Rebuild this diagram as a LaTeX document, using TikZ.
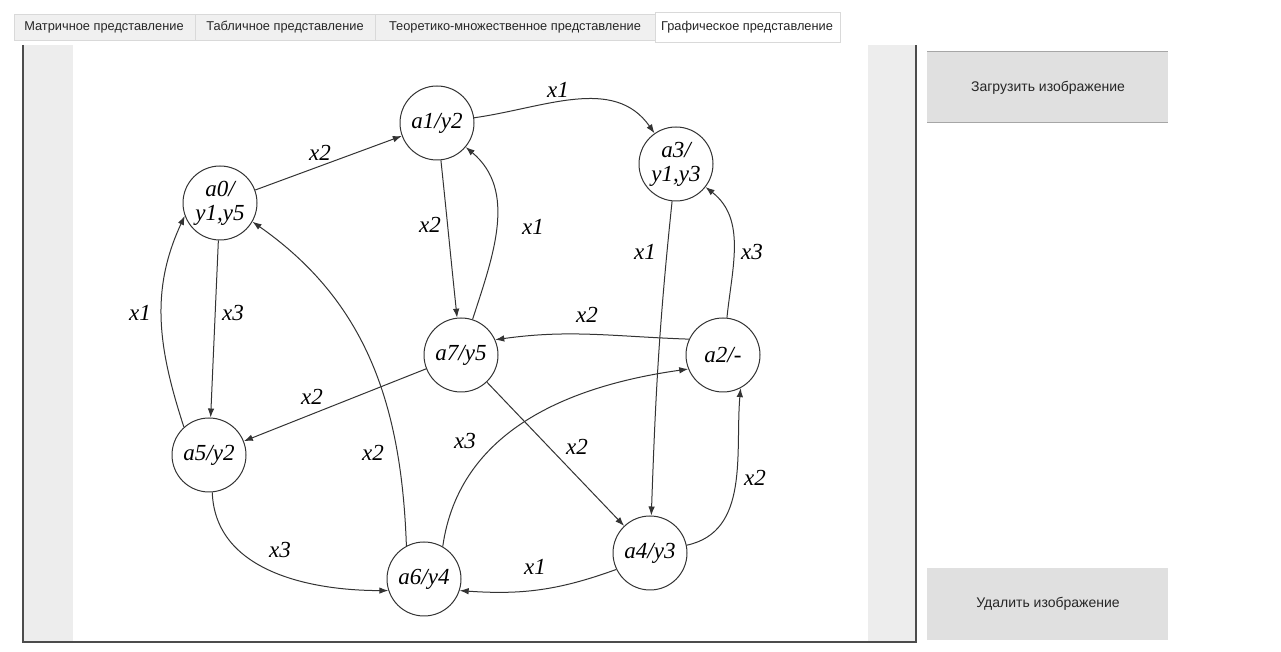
\documentclass[tikz,border=0pt]{standalone}
\usepackage{fontspec}
\setmainfont{Liberation Serif}
\newfontfamily\uifont{Liberation Sans}
\usetikzlibrary{arrows.meta}
\begin{document}
\begin{tikzpicture}[x=1pt,y=1pt,
  state/.style={circle, draw=black!80, line width=1pt, minimum size=74pt, inner sep=0pt,
    align=center, font=\fontsize{23}{27}\selectfont\itshape},
  lbl/.style={font=\fontsize{23}{27}\selectfont\itshape, inner sep=0pt},
  edge/.style={draw=black!80, line width=1pt, -{Latex[length=9pt,width=6.5pt]}},
  tabbox/.style={fill=black!6, draw=black!15, line width=0.8pt},
  tabon/.style={fill=white, draw=black!15, line width=0.8pt},
  uitext/.style={font=\uifont\fontsize{12.8}{15}\selectfont, text=black!85, inner sep=0pt},
  btntext/.style={font=\uifont\fontsize{14}{16}\selectfont, text=black!85, inner sep=0pt},
  btn/.style={fill=black!12, draw=none},
  btnedge/.style={draw=black!35, line width=1pt},
  strip/.style={fill=black!7, draw=none},
  frameline/.style={draw=black!70, line width=1.5pt}
]
\useasboundingbox (0,0) rectangle (1281,652);
\fill[white] (0,0) rectangle (1281,652);

% tab strip
\path[tabbox] (14,612) rectangle (195,638);
\path[tabbox] (195,612) rectangle (375,638);
\path[tabbox] (375,612) rectangle (655,638);
\path[tabon] (655,610) rectangle (840,640);
\node[uitext] (t1) at (104,625) {Матричное представление};
\node[uitext] (t2) at (285,625) {Табличное представление};
\node[uitext] (t3) at (515,625) {Теоретико-множественное представление};
\node[uitext] (t4) at (747,625) {Графическое представление};

% picture panel
\path[strip] (24,10) rectangle (73,607);
\path[strip] (868,10) rectangle (915,607);
\draw[frameline] (23,607) -- (23,10) -- (916,10) -- (916,607);

% buttons
\path[btn] (927,529) rectangle (1168,600);
\draw[btnedge] (927,600) -- (1168,600);
\draw[btnedge] (927,529) -- (1168,529);
\node[btntext] (b1) at (1048,564) {Загрузить изображение};
\path[btn] (927,12) rectangle (1168,84);
\node[btntext] (b2) at (1048,48) {Удалить изображение};

% states
\node[state] (a0) at (220,449) {a0/\\[-3pt]y1,y5};
\node[state] (a1) at (437,529) {a1/y2};
\node[state] (a3) at (676,488) {a3/\\[-3pt]y1,y3};
\node[state] (a7) at (461,297) {a7/y5};
\node[state] (a2) at (723,297) {a2/-};
\node[state] (a5) at (209,197) {a5/y2};
\node[state] (a6) at (424,73) {a6/y4};
\node[state] (a4) at (650,99) {a4/y3};

% transitions
\draw[edge] (a0) -- (a1);
\draw[edge] (a1) to[out=8, in=125] (a3);
\draw[edge] (a1) to[out=-84, in=96] (a7);
\draw[edge] (a7) to[out=72, in=-40] (a1);
\draw[edge] (a3) to[out=-96, in=88] (a4);
\draw[edge] (a2) to[out=84, in=-38] (a3);
\draw[edge] (a2.155) to[out=178, in=8] (a7.24);
\draw[edge] (a6.60) to[out=82, in=188] (a2.202);
\draw[edge] (a7) -- (a4);
\draw[edge] (a4.12) to[out=12, in=-95] (a2.-62);
\draw[edge] (a4.206) to[out=200, in=-4] (a6.-18);
\draw[edge] (a5.-85) to[out=-88, in=180] (a6.-162);
\draw[edge] (a6.118) to[out=92, in=-35] (a0.-30);
\draw[edge] (a5.132) to[out=108, in=-115] (a0.200);
\draw[edge] (a0) -- (a5);
\draw[edge] (a7) -- (a5);

% input labels
\node[lbl] (l01) at (320,499) {x2};
\node[lbl] (l13) at (558,562) {x1};
\node[lbl] (l17) at (430,427) {x2};
\node[lbl] (l71) at (533,425) {x1};
\node[lbl] (l34) at (645,400) {x1};
\node[lbl] (l23) at (752,400) {x3};
\node[lbl] (l27) at (587,337) {x2};
\node[lbl] (l62) at (465,211) {x3};
\node[lbl] (l74) at (577,205) {x2};
\node[lbl] (l42) at (755,174) {x2};
\node[lbl] (l46) at (535,85) {x1};
\node[lbl] (l56) at (280,102) {x3};
\node[lbl] (l60) at (373,199) {x2};
\node[lbl] (l50) at (140,339) {x1};
\node[lbl] (l05) at (233,339) {x3};
\node[lbl] (l75) at (312,255) {x2};
\end{tikzpicture}
\end{document}
